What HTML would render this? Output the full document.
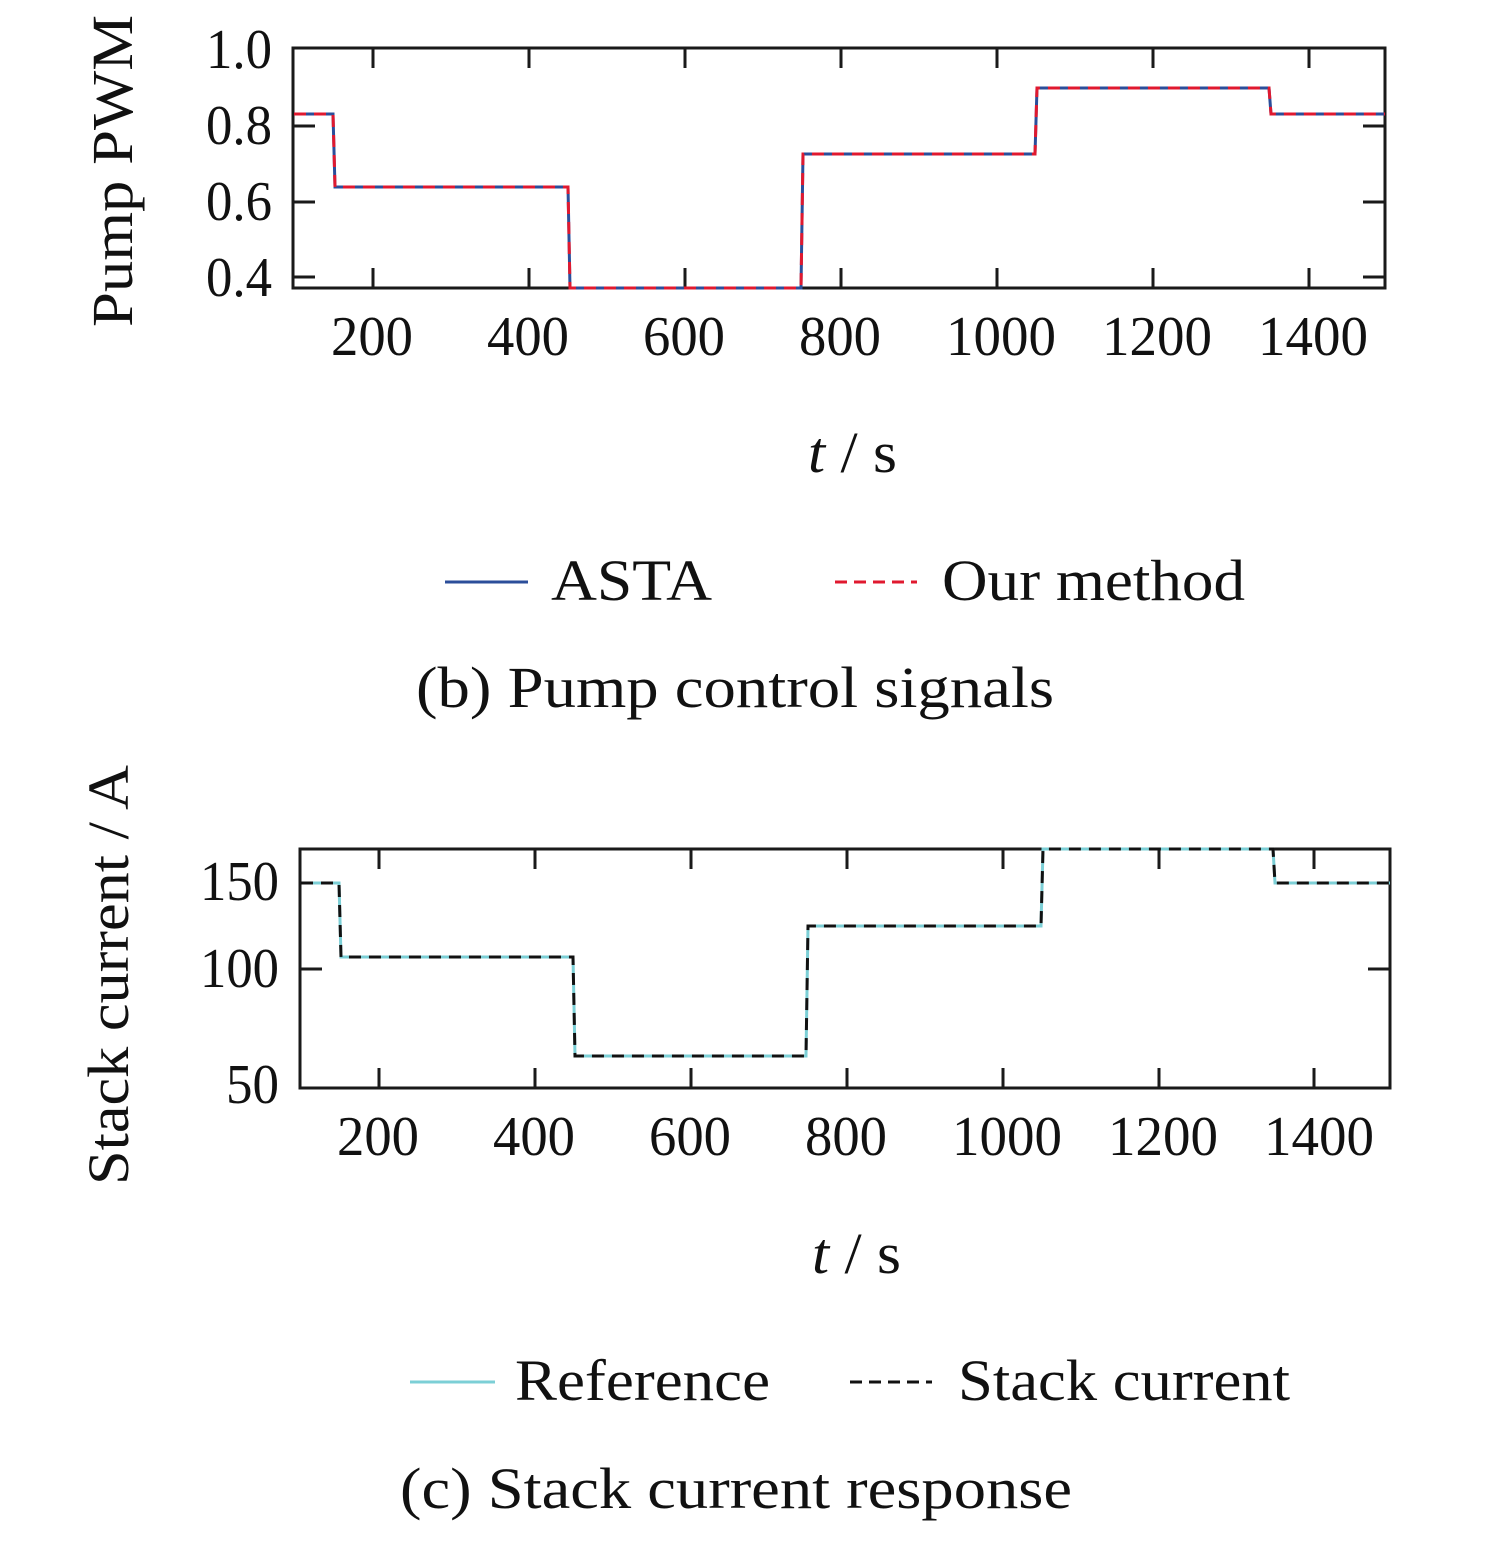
<!DOCTYPE html>
<html><head><meta charset="utf-8"><style>
html,body{margin:0;padding:0;background:#fff;}
svg{display:block;}
text{font-family:"Liberation Serif",serif;fill:#111;}
</style></head><body>
<svg width="1496" height="1544" viewBox="0 0 1496 1544" xmlns="http://www.w3.org/2000/svg">
<g font-size="56">
<!-- Top plot -->
<g stroke="#1a1a1a" stroke-width="3" fill="none">
<rect x="293" y="48" width="1092" height="240"/>
<path d="M373 48v20M529 48v20M685 48v20M841 48v20M997 48v20M1153 48v20M1309 48v20
M373 288v-20M529 288v-20M685 288v-20M841 288v-20M997 288v-20M1153 288v-20M1309 288v-20
M293 126h22M293 202h22M293 277h22M1385 126h-22M1385 202h-22M1385 277h-22"/>
</g>
<path d="M294 114H333L335 187H568L570 288H801L803 154H1035L1037 88H1269L1271 114H1385" fill="none" stroke="#2b4e9a" stroke-width="3"/>
<path d="M294 114H333L335 187H568L570 288H801L803 154H1035L1037 88H1269L1271 114H1385" fill="none" stroke="#e0192f" stroke-width="3" stroke-dasharray="12 8"/>
<g text-anchor="end">
<text x="272" y="68" textLength="66" lengthAdjust="spacingAndGlyphs">1.0</text>
<text x="272" y="144" textLength="66" lengthAdjust="spacingAndGlyphs">0.8</text>
<text x="272" y="220" textLength="66" lengthAdjust="spacingAndGlyphs">0.6</text>
<text x="272" y="296" textLength="66" lengthAdjust="spacingAndGlyphs">0.4</text>
</g>
<g text-anchor="middle">
<text x="372" y="355" textLength="82" lengthAdjust="spacingAndGlyphs">200</text>
<text x="528" y="355" textLength="82" lengthAdjust="spacingAndGlyphs">400</text>
<text x="684" y="355" textLength="82" lengthAdjust="spacingAndGlyphs">600</text>
<text x="840" y="355" textLength="82" lengthAdjust="spacingAndGlyphs">800</text>
<text x="1001" y="355" textLength="110" lengthAdjust="spacingAndGlyphs">1000</text>
<text x="1157" y="355" textLength="110" lengthAdjust="spacingAndGlyphs">1200</text>
<text x="1313" y="355" textLength="110" lengthAdjust="spacingAndGlyphs">1400</text>
</g>
<g font-size="58">
<text transform="translate(132,171) rotate(-90)" text-anchor="middle" textLength="312" lengthAdjust="spacingAndGlyphs">Pump PWM</text>
<text x="808" y="472" textLength="89" lengthAdjust="spacingAndGlyphs"><tspan font-style="italic">t</tspan> / s</text>
<text x="551" y="600" textLength="161" lengthAdjust="spacingAndGlyphs">ASTA</text>
<text x="942" y="600" textLength="303" lengthAdjust="spacingAndGlyphs">Our method</text>
<text x="416" y="707" textLength="638" lengthAdjust="spacingAndGlyphs">(b) Pump control signals</text>
</g>
<line x1="445" y1="582" x2="528" y2="582" stroke="#2b4e9a" stroke-width="3"/>
<line x1="835" y1="582" x2="917" y2="582" stroke="#e0192f" stroke-width="3" stroke-dasharray="12 7"/>

<!-- Bottom plot -->
<g stroke="#1a1a1a" stroke-width="3" fill="none">
<rect x="300" y="849" width="1090" height="239"/>
<path d="M379 849v20M535 849v20M691 849v20M847 849v20M1003 849v20M1159 849v20M1314 849v20
M379 1088v-20M535 1088v-20M691 1088v-20M847 1088v-20M1003 1088v-20M1159 1088v-20M1314 1088v-20
M300 969h22M1390 969h-22"/>
</g>
<path d="M301 883H339L341 957H573L575 1056H806L808 926H1041L1043 849H1273L1275 883H1390" fill="none" stroke="#7ccfd6" stroke-width="3"/>
<path d="M301 883H339L341 957H573L575 1056H806L808 926H1041L1043 849H1273L1275 883H1390" fill="none" stroke="#111" stroke-width="3" stroke-dasharray="12 8"/>
<g text-anchor="end">
<text x="279" y="900" textLength="79" lengthAdjust="spacingAndGlyphs">150</text>
<text x="279" y="987" textLength="79" lengthAdjust="spacingAndGlyphs">100</text>
<text x="279" y="1103" textLength="53" lengthAdjust="spacingAndGlyphs">50</text>
</g>
<g text-anchor="middle">
<text x="378" y="1155" textLength="82" lengthAdjust="spacingAndGlyphs">200</text>
<text x="534" y="1155" textLength="82" lengthAdjust="spacingAndGlyphs">400</text>
<text x="690" y="1155" textLength="82" lengthAdjust="spacingAndGlyphs">600</text>
<text x="846" y="1155" textLength="82" lengthAdjust="spacingAndGlyphs">800</text>
<text x="1007" y="1155" textLength="110" lengthAdjust="spacingAndGlyphs">1000</text>
<text x="1163" y="1155" textLength="110" lengthAdjust="spacingAndGlyphs">1200</text>
<text x="1319" y="1155" textLength="110" lengthAdjust="spacingAndGlyphs">1400</text>
</g>
<g font-size="58">
<text transform="translate(128,975) rotate(-90)" text-anchor="middle" textLength="420" lengthAdjust="spacingAndGlyphs">Stack current / A</text>
<text x="812" y="1273" textLength="89" lengthAdjust="spacingAndGlyphs"><tspan font-style="italic">t</tspan> / s</text>
<text x="515" y="1400" textLength="255" lengthAdjust="spacingAndGlyphs">Reference</text>
<text x="958" y="1400" textLength="332" lengthAdjust="spacingAndGlyphs">Stack current</text>
<text x="400" y="1508" textLength="672" lengthAdjust="spacingAndGlyphs">(c) Stack current response</text>
</g>
<line x1="410" y1="1382" x2="495" y2="1382" stroke="#7ccfd6" stroke-width="3"/>
<line x1="850" y1="1382" x2="932" y2="1382" stroke="#111" stroke-width="3" stroke-dasharray="12 7"/>
</g>
</svg>
</body></html>
